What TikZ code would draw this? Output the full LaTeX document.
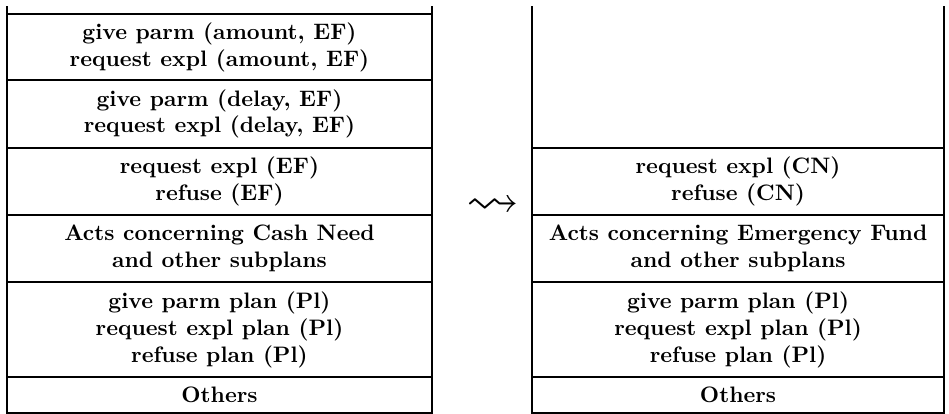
\documentclass[tikz,border=0pt]{standalone}
\usepackage{amssymb}
\usepackage{graphicx}
\usetikzlibrary{positioning}

\begin{document}
\begin{tikzpicture}[
  x=1pt, y=-1pt,
  every node/.style={font=\bfseries, align=center, inner sep=1pt, outer sep=0pt},
  rule/.style  = {line width=1.1pt},
  lcell/.style = {draw, rule, minimum width=190.1pt},
  rcell/.style = {draw, rule, minimum width=184.3pt},
]
  \useasboundingbox (0,0) rectangle (424.4,185.1);
  % Left stack: focus before the shift.
  \node[lcell, minimum height=29.5pt, anchor=north] (l1) at (98.15,6.26)
       {give parm (amount, EF)\\request expl (amount, EF)};
  \node[lcell, minimum height=30.4pt, below=0pt of l1] (l2)
       {give parm (delay, EF)\\request expl (delay, EF)};
  \node[lcell, minimum height=30pt,   below=0pt of l2] (l3)
       {request expl (EF)\\refuse (EF)};
  \node[lcell, minimum height=30pt,   below=0pt of l3] (l4)
       {Acts concerning Cash Need\\and other subplans};
  \node[lcell, minimum height=42.5pt, below=0pt of l4] (l5)
       {give parm plan (Pl)\\request expl plan (Pl)\\refuse plan (Pl)};
  \node[lcell, minimum height=16.1pt, below=0pt of l5] (l6) {Others};
  % Right stack: focus after the shift.
  \node[rcell, minimum height=30pt, anchor=north] (r1) at (330.05,66.2)
       {request expl (CN)\\refuse (CN)};
  \node[rcell, minimum height=30pt,   below=0pt of r1] (r2)
       {Acts concerning Emergency Fund\\and other subplans};
  \node[rcell, minimum height=42.5pt, below=0pt of r2] (r3)
       {give parm plan (Pl)\\request expl plan (Pl)\\refuse plan (Pl)};
  \node[rcell, minimum height=16.1pt, below=0pt of r3] (r4) {Others};
  % Open tops of the stacks.
  \draw[rule] (l1.north west) -- ++(0,-3.58);
  \draw[rule] (l1.north east) -- ++(0,-3.58);
  \draw[rule] (r1.north west) -- ++(0,-63.5);
  \draw[rule] (r1.north east) -- ++(0,-63.5);
  % Shift sign.
  \node (shift) at (220.5,92.6) {\resizebox{23.7pt}{8.5pt}{$\leadsto$}};
\end{tikzpicture}
\end{document}
